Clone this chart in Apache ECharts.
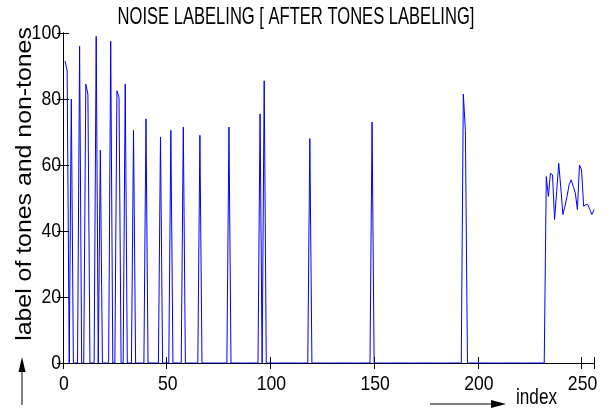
<!DOCTYPE html>
<html>
<head>
<meta charset="utf-8">
<script src="https://cdn.jsdelivr.net/npm/echarts@6/dist/echarts.min.js"></script>
<style>html,body{margin:0;padding:0;background:#fff}#c{width:613px;height:412px}</style>
</head>
<body>
<div id="c"></div>
<script>
// ---- data ----
const titleText = 'NOISE LABELING [ AFTER TONES LABELING]';
const yAxisName = 'label of tones and non-tones';
const xAxisName = 'index';
const indexCount = 256;
const xTicks = [0, 50, 100, 150, 200, 250];
const yTicks = [0, 20, 40, 60, 80, 100];
// isolated tone labels (index -> label value)
const spikeIndex = [1, 2, 4, 8, 11, 12, 16, 18, 23, 26, 27, 30, 34, 40, 47, 52, 58, 66, 80, 95, 97, 119, 149, 193, 194];
const spikeValue = [91.5, 88.5, 80, 96, 84.5, 81.5, 99, 64.5, 97.5, 82.5, 80.5, 84.5, 70.5, 74, 68.5, 70.5, 71.5, 69, 71.5, 75.5, 85.5, 68, 73, 81.5, 70.5];
// noise segment at the end (starting index 233)
const tailStart = 233;
const tailValue = [56.5, 50.5, 57.5, 57, 43.5, 52, 60.5, 53, 45, 47.5, 50.5, 54, 55.5, 53.5, 51.5, 46.5, 60, 58.5, 47.5, 48, 48, 46.5, 45, 46.5];

// ---- build series ----
const labels = new Array(indexCount).fill(0);
spikeIndex.forEach((k, i) => { labels[k - 1] = spikeValue[i]; });
tailValue.forEach((v, i) => { labels[tailStart - 1 + i] = v; });
const seriesData = labels.map((v, i) => [i + 1, v]);

const chart = echarts.init(document.getElementById('c'), null, {renderer: 'canvas'});
const font = '"Liberation Sans", Arial, sans-serif';
const axisCommon = {
  axisLine: {show: true, lineStyle: {color: '#000', width: 1}},
  axisTick: {show: true, inside: true, length: 6, lineStyle: {color: '#000'}},
  axisLabel: {show: false},
  splitLine: {show: false}
};
chart.setOption({
  animation: false,
  backgroundColor: '#fff',
  grid: {left: 63, right: 19, top: 33, bottom: 49},
  xAxis: [
    Object.assign({type: 'value', min: 0, max: indexCount, interval: 50, position: 'bottom'}, axisCommon),
    Object.assign({type: 'value', min: 0, max: indexCount, interval: 50, position: 'top'}, axisCommon)
  ],
  yAxis: [
    Object.assign({type: 'value', min: 0, max: 100, interval: 20, position: 'left'}, axisCommon),
    Object.assign({type: 'value', min: 0, max: 100, interval: 20, position: 'right'}, axisCommon)
  ],
  series: [{
    type: 'line', data: seriesData, showSymbol: false, symbol: 'none', smooth: false, sampling: null,
    lineStyle: {color: '#0000ff', width: 1}, z: 5, silent: true
  }]
});

// condensed texts (the reference uses a horizontally squeezed font), placed via the axes' scales
const g = [];
xTicks.forEach(v => {
  const px = chart.convertToPixel({xAxisIndex: 0}, v);
  g.push({type: 'text', x: px + 1, y: 384, scaleX: 0.84,
    style: {text: String(v), font: '21px ' + font, fill: '#000', textAlign: 'center', textVerticalAlign: 'middle'}});
});
yTicks.forEach(v => {
  const py = chart.convertToPixel({yAxisIndex: 0}, v);
  g.push({type: 'text', x: 61, y: py, scaleX: 0.84,
    style: {text: String(v), font: '21px ' + font, fill: '#000', textAlign: 'right', textVerticalAlign: 'middle'}});
});
g.push({type: 'text', x: 296, y: 17, scaleX: 0.69,
  style: {text: titleText, font: '24px ' + font, fill: '#000', textAlign: 'center', textVerticalAlign: 'middle'}});
g.push({type: 'text', x: 25, y: 184, rotation: Math.PI / 2, scaleX: 1.13,
  style: {text: yAxisName, font: '22px ' + font, fill: '#000', textAlign: 'center', textVerticalAlign: 'middle'}});
g.push({type: 'text', x: 516, y: 398, scaleX: 0.78,
  style: {text: xAxisName, font: '22px ' + font, fill: '#000', textAlign: 'left', textVerticalAlign: 'middle'}});
g.push({type: 'line', shape: {x1: 22, y1: 405, x2: 22, y2: 370}, style: {stroke: '#000', lineWidth: 1}});
g.push({type: 'polygon', shape: {points: [[22, 357], [18.5, 372], [25.5, 372]]}, style: {fill: '#000'}});
g.push({type: 'line', shape: {x1: 430, y1: 404, x2: 492, y2: 404}, style: {stroke: '#000', lineWidth: 1}});
g.push({type: 'polygon', shape: {points: [[506, 404], [491, 400], [491, 408]]}, style: {fill: '#000'}});
chart.setOption({graphic: g});
</script>
</body>
</html>
